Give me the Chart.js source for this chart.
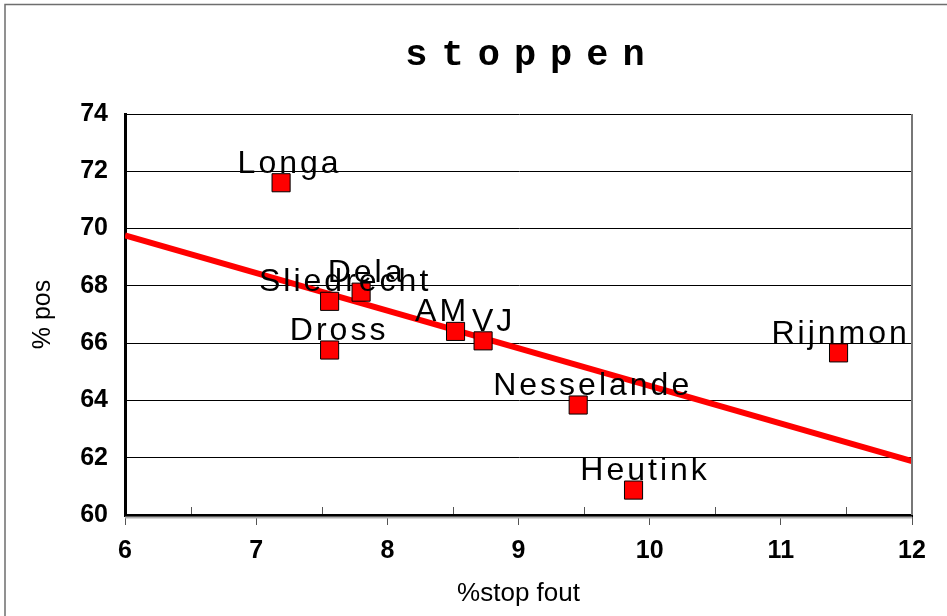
<!DOCTYPE html>
<html>
<head>
<meta charset="utf-8">
<script src="https://cdn.jsdelivr.net/npm/chart.js@4"></script>
<style>
  html, body { margin: 0; padding: 0; background: #fff; }
  #wrap { width: 947px; height: 616px; position: relative; }
</style>
</head>
<body>
<div id="wrap"><canvas id="c" width="947" height="616"></canvas></div>
<script>
// ---- data ----
const chartTitle = 'stoppen';
const xAxisTitle = '%stop fout';
const yAxisTitle = '% pos';
const names   = ['Longa', 'Sliedrecht', 'Dela', 'Dross', 'AM', 'VJ', 'Nesselande', 'Heutink', 'Rijnmond'];
const stopFout = [7.19, 7.56, 7.80, 7.56, 8.52, 8.73, 9.455, 9.877, 11.44];
const pctPos   = [71.60, 67.46, 67.78, 65.76, 66.41, 66.08, 63.84, 60.87, 65.66];
const trendX = [6, 12];
const trendY = [69.76, 61.88];
const xTicks = [6, 7, 8, 9, 10, 11, 12];
const yTicks = [60, 62, 64, 66, 68, 70, 72, 74];

const points = stopFout.map((x, i) => ({ x: x, y: pctPos[i] }));
const trend = trendX.map((x, i) => ({ x: x, y: trendY[i] }));

const decor = {
  id: 'decor',
  beforeDraw(chart) {
    const ctx = chart.ctx;
    ctx.save();
    ctx.fillStyle = '#fff';
    ctx.fillRect(0, 0, chart.width, chart.height);
    // outer frame
    ctx.strokeStyle = '#6e6e6e';
    ctx.lineWidth = 1.5;
    ctx.beginPath();
    ctx.moveTo(5, chart.height + 2);
    ctx.lineTo(5, 4.5);
    ctx.lineTo(chart.width + 2, 4.5);
    ctx.stroke();
    // title
    ctx.font = 'bold 37px "Liberation Mono", "Courier New", monospace';
    ctx.letterSpacing = '14px';
    ctx.fillStyle = '#000';
    ctx.textBaseline = 'alphabetic';
    ctx.textAlign = 'left';
    const w = ctx.measureText(chartTitle).width - 14;
    ctx.fillText(chartTitle, 525 - w / 2, 65);
    ctx.restore();
  },
  afterDraw(chart) {
    const ctx = chart.ctx;
    const a = chart.chartArea;
    const xs = chart.scales.x;
    ctx.save();
    // right border of plot
    ctx.strokeStyle = '#777';
    ctx.lineWidth = 2;
    ctx.beginPath();
    ctx.moveTo(a.right, a.top);
    ctx.lineTo(a.right, a.bottom);
    ctx.stroke();
    // shadow under x axis
    ctx.strokeStyle = '#b0b0b0';
    ctx.lineWidth = 2;
    ctx.beginPath();
    ctx.moveTo(a.left, a.bottom + 2.5);
    ctx.lineTo(a.right, a.bottom + 2.5);
    ctx.stroke();
    // minor ticks (inside)
    ctx.strokeStyle = '#555';
    ctx.lineWidth = 1;
    for (let v = xs.min + 0.5; v < xs.max; v += 1) {
      const px = Math.round(xs.getPixelForValue(v)) + 0.5;
      ctx.beginPath();
      ctx.moveTo(px, a.bottom - 1);
      ctx.lineTo(px, a.bottom - 8);
      ctx.stroke();
    }
    ctx.restore();
  }
};

// horizontal nudges (px) of each data label relative to its marker, as placed in the reference
const labelNudge = [7, 14, 4, 8, -15, 9, 13, 10, 11];

const pointLabels = {
  id: 'pointLabels',
  afterDatasetsDraw(chart) {
    const ctx = chart.ctx;
    const a = chart.chartArea;
    const meta = chart.getDatasetMeta(0);
    ctx.save();
    ctx.beginPath();
    ctx.rect(a.left, 0, a.right - a.left, chart.height);
    ctx.clip();
    ctx.font = '32px "Liberation Sans", Arial, sans-serif';
    ctx.letterSpacing = '3px';
    ctx.fillStyle = '#000';
    ctx.textBaseline = 'alphabetic';
    ctx.textAlign = 'left';
    meta.data.forEach((el, i) => {
      const t = names[i];
      const w = ctx.measureText(t).width - 3;
      ctx.fillText(t, el.x + labelNudge[i] - w / 2, el.y - 10);
    });
    ctx.restore();
  }
};

new Chart(document.getElementById('c'), {
  type: 'scatter',
  data: {
    datasets: [
      {
        label: 'punten',
        data: points,
        pointStyle: 'rect',
        pointRadius: 12.8,
        pointHoverRadius: 12.8,
        backgroundColor: '#ff0000',
        borderColor: '#000',
        borderWidth: 1,
        order: 0
      },
      {
        type: 'line',
        label: 'trend',
        data: trend,
        borderColor: '#ff0000',
        borderWidth: 6,
        pointRadius: 0,
        fill: false,
        order: 1
      }
    ]
  },
  options: {
    responsive: false,
    animation: false,
    events: [],
    layout: { padding: { top: 114, right: 35, left: 0, bottom: 0 } },
    plugins: {
      legend: { display: false },
      title: { display: false },
      tooltip: { enabled: false }
    },
    scales: {
      x: {
        type: 'linear',
        min: 6, max: 12,
        afterFit(s) { s.height = 101; },
        afterBuildTicks(s) { s.ticks = xTicks.map(v => ({ value: v })); },
        ticks: {
          color: '#000',
          padding: 11,
          font: { family: '"Liberation Sans", Arial, sans-serif', size: 25, weight: 'bold' }
        },
        grid: { drawOnChartArea: false, drawTicks: true, tickLength: 10, color: '#555', lineWidth: 1 },
        border: { display: true, color: '#000', width: 3 },
        title: {
          display: true, text: xAxisTitle, color: '#000',
          padding: { top: 0, bottom: 7 },
          font: { family: '"Liberation Sans", Arial, sans-serif', size: 26 }
        }
      },
      y: {
        type: 'linear',
        min: 60, max: 74,
        afterFit(s) { s.width = 125; },
        afterBuildTicks(s) { s.ticks = yTicks.map(v => ({ value: v })); },
        ticks: {
          color: '#000',
          padding: 17,
          font: { family: '"Liberation Sans", Arial, sans-serif', size: 25, weight: 'bold' }
        },
        grid: { drawTicks: false, color: '#000', lineWidth: 1 },
        border: { display: true, color: '#000', width: 3 },
        title: {
          display: true, text: yAxisTitle, color: '#000',
          padding: { top: 28, bottom: 0 },
          font: { family: '"Liberation Sans", Arial, sans-serif', size: 25 }
        }
      }
    }
  },
  plugins: [decor, pointLabels]
});
</script>
</body>
</html>
